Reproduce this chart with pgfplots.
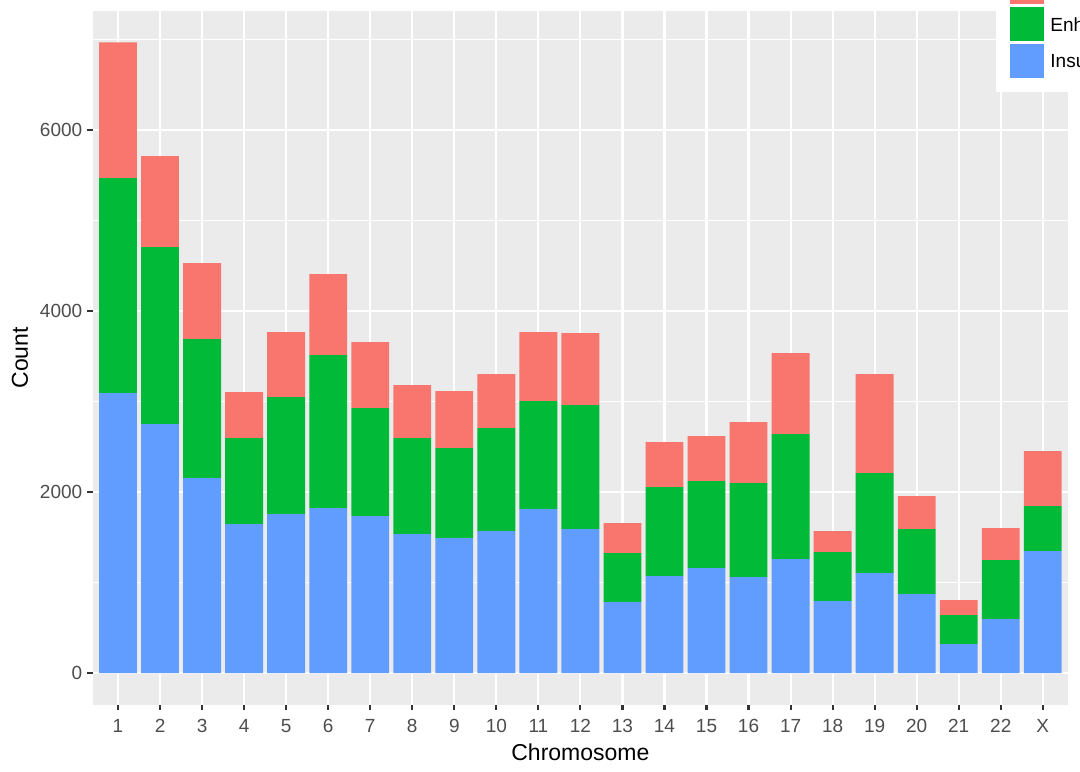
\documentclass[border=0pt]{standalone}
\usepackage{pgfplots}
\pgfplotsset{compat=1.18}
\usepackage{pgfplotstable}
\usepackage{fontspec}
\setmainfont{Liberation Sans}
\definecolor{ggred}{HTML}{F8766D}
\definecolor{gggreen}{HTML}{00BA38}
\definecolor{ggblue}{HTML}{619CFF}
\definecolor{ggbg}{HTML}{EBEBEB}
\definecolor{ggtick}{HTML}{4D4D4D}
\definecolor{ggtickline}{HTML}{333333}
\pgfplotstableread{
x ins enh oth
0  3094 2376 1502
1  2751 1956 1006
2  2155 1536 839
3  1646 951 508
4  1757 1293 718
5  1823 1691 895
6  1735 1193 729
7  1536 1061 585
8  1492 994 630
9  1569 1138 597
10 1812 1194 762
11 1591 1370 796
12 785 541 331
13 1072 983 497
14 1160 962 497
15 1061 1038 674
16 1260 1381 895
17 796 541 232
18 1105 1105 1094
19 873 718 365
20 320 321 166
21 597 652 353
22 1348 497 608
}\chrdata
\begin{document}
\begin{tikzpicture}
\begin{axis}[
  name=ax, at={(0,0)}, anchor=south west,
  scale only axis, width=487.6pt, height=346.75pt,
  ybar stacked, bar width=0.9,
  xmin=-0.6, xmax=22.6, ymin=-348, ymax=7318,
  xtick={0,...,22},
  xticklabels={1,2,3,4,5,6,7,8,9,10,11,12,13,14,15,16,17,18,19,20,21,22,X},
  ytick={0,2000,4000,6000},
  minor ytick={1000,3000,5000,7000},
  axis background/.style={fill=ggbg},
  axis line style={draw=none},
  grid=both,
  major grid style={white, line width=1.07pt},
  minor grid style={white, line width=0.53pt},
  tick align=outside,
  major tick length=2.75pt,
  minor tick length=0pt,
  tick style={ggtickline, line width=1.07pt},
  xtick pos=bottom, ytick pos=left,
  ticklabel style={font=\fontsize{9.5}{11}\selectfont, text=ggtick},
  /pgf/number format/assume math mode=true,
  /pgf/number format/1000 sep={},
  scaled y ticks=false,
  xticklabel style={yshift=-1pt},
  yticklabel style={xshift=1pt},
  xlabel={Chromosome}, ylabel={Count},
  label style={font=\fontsize{11.5}{13}\selectfont, text=black},
  xlabel style={at={(axis description cs:0.5,-0.0685)}, anchor=center},
  ylabel style={at={(axis description cs:-0.0747,0.5)}, anchor=center, rotate=0},
  every axis plot/.append style={draw=none},
]
\addplot[fill=ggblue] table[x=x, y=ins] {\chrdata};
\addplot[fill=gggreen] table[x=x, y=enh] {\chrdata};
\addplot[fill=ggred] table[x=x, y=oth] {\chrdata};
\end{axis}
% legend (cropped at the picture's edge, as in the reference)
\fill[white] (451.6pt,306.25pt) rectangle (600pt,420pt);
\fill[ggred] (458.4pt,350.2pt) rectangle (475.6pt,367.4pt);
\fill[gggreen] (458.4pt,331.6pt) rectangle (475.6pt,348.6pt);
\fill[ggblue] (458.4pt,313.2pt) rectangle (475.6pt,330.2pt);
\node[anchor=west, inner sep=0pt, font=\fontsize{9.5}{11}\selectfont] at (478.6pt,358.8pt) {Promoter};
\node[anchor=west, inner sep=0pt, font=\fontsize{9.5}{11}\selectfont] at (478.6pt,340.1pt) {Enhancer};
\node[anchor=west, inner sep=0pt, font=\fontsize{9.5}{11}\selectfont] at (478.6pt,321.7pt) {Insulator};
\pgfresetboundingbox
\path[use as bounding box] (-46.4pt,-33.25pt) rectangle (493.6pt,352.25pt);
\end{tikzpicture}
\end{document}
